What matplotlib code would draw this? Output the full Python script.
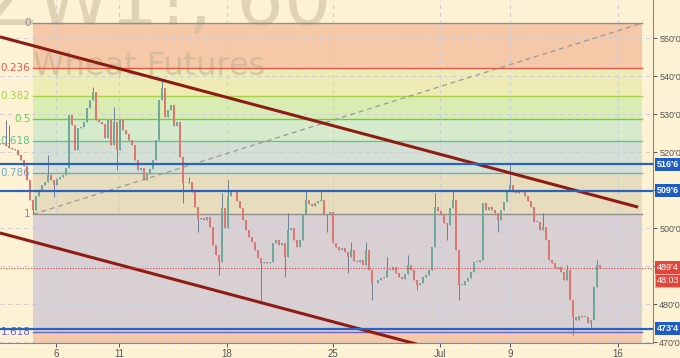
import numpy as np
import matplotlib
matplotlib.use("Agg")
import matplotlib.pyplot as plt

# hourly closes of ZW1! (one bar every ~3 px)
closes = [
    522.4, 522.1, 521.6, 521.1, 520.8, 520.5, 519.2, 517.9, 516.3, 512.6,
    507.4, 504.7, 508.4, 510.0, 511.3, 512.1, 514.0, 512.6, 511.3, 512.9,
    513.4, 514.0, 515.8, 529.7, 527.1, 520.5, 526.3, 526.6, 527.9, 531.6,
    533.7, 535.8, 528.4, 527.9, 527.4, 523.7, 528.4, 521.8, 527.9, 520.5,
    528.4, 525.8, 524.7, 523.2, 521.8, 517.9, 515.3, 515.8, 512.6, 514.2,
    515.5, 517.9, 523.2, 533.7, 536.8, 529.2, 531.1, 532.4, 526.8, 527.9,
    518.7, 511.8, 511.8, 512.1, 509.5, 505.5, 502.4, 502.6, 502.1, 502.9,
    500.3, 495.5, 492.9, 491.1, 505.3, 500.0, 508.4, 509.5, 509.5, 507.1,
    505.3, 502.1, 499.5, 497.6, 496.3, 494.2, 492.1, 490.8, 491.1, 490.8,
    491.1, 496.1, 496.8, 495.5, 496.1, 492.4, 499.5, 500.0, 496.8, 495.0,
    496.8, 503.4, 507.4, 506.3, 505.8, 506.6, 507.1, 507.4, 503.4, 503.7,
    504.2, 496.1, 495.0, 494.2, 494.7, 493.7, 492.4, 494.2, 491.3, 491.1,
    491.6, 490.3, 494.2, 489.0, 485.5, 485.5, 486.3, 486.8, 487.1, 489.0,
    489.0, 489.7, 488.2, 487.1, 486.6, 487.9, 490.3, 489.0, 486.3, 485.0,
    485.5, 487.1, 487.6, 489.0, 495.0, 505.5, 504.5, 503.4, 501.3, 500.8,
    505.3, 507.4, 494.2, 485.0, 485.0, 486.1, 486.8, 488.4, 491.1, 491.1,
    491.6, 506.6, 504.7, 505.5, 504.7, 503.9, 502.1, 504.7, 506.8, 510.0,
    511.3, 509.5, 509.2, 510.0, 509.5, 508.4, 507.1, 505.5, 501.6, 501.6,
    499.5, 500.3, 496.8, 491.6, 490.8, 489.5, 489.7, 488.4, 486.3, 489.0,
    481.1, 476.6, 475.8, 476.8, 476.6, 476.6, 475.0, 475.8, 484.5, 490.3,
    489.5,
]
first_open = 522.0

# long wicks that stick out of the bodies
spike_highs = {2: 528.4, 3: 527.1, 16: 519.2, 31: 537.1, 38: 531.8, 54: 538.9,
               63: 513.4, 74: 509.2, 76: 512.6, 96: 503.9, 102: 510.0, 107: 510.0,
               117: 496.3, 122: 496.3, 129: 492.4, 136: 492.9, 145: 509.2,
               151: 510.0, 170: 516.6, 181: 503.9, 189: 490.3, 199: 491.6}
spike_lows = {11: 503.7, 18: 508.2, 39: 515.3, 61: 506.6, 66: 498.9, 73: 487.6,
              87: 480.5, 95: 487.1, 109: 498.9, 116: 488.2, 124: 481.1,
              139: 483.7, 149: 496.8, 153: 481.1, 166: 498.9, 191: 471.8,
              197: 474.0}

# fibonacci retracement drawing
fib_start = (11, 503.6)
fib_end = (214, 553.9)
fib_levels = [0, 0.236, 0.382, 0.5, 0.618, 0.786, 1, 1.618, 2.618]
fib_labels = ["0", "0.236", "0.382", "0.5", "0.618", "0.786", "1", "1.618"]
fib_line_colors = ["#8f8f8f", "#e5574a", "#a9cf45", "#66cf45", "#5cc590",
                   "#6aa9d8", "#8f8f8f", "#6a63c9"]
fib_fill_colors = ["#f5c8a8", "#eeebb4", "#d9ecb2", "#d6ebcb", "#d4e0d3",
                   "#e7dcbc", "#d9d0d4", "#f5c8a8"]

# trend channel and horizontal levels
upper_trend = ([0, 212.7], [550.3, 505.5])
lower_trend = ([0, 212.7], [498.7, 453.9])
blue_levels = [516.75, 509.75, 473.5]
blue_texts = ["516'6", "509'6", "473'4"]
last_price = 489.5
last_text = "489'4"
countdown = "48:03"

day_ticks = [18.67, 39.67, 75.67, 111, 146.67, 170, 206]
day_labels = ["6", "11", "18", "25", "Jul", "9", "16"]
price_ticks = [470, 480, 490, 500, 510, 520, 530, 540, 550]
hidden_ticks = [490, 510]  # covered by the price tags

bg = "#fdf3d4"
axis_font = "Liberation Sans"
fig = plt.figure(figsize=(6.8, 3.58), dpi=100, facecolor=bg)
ax = fig.add_axes([0, 15 / 358, 653 / 680, 343 / 358], facecolor=bg)
ax.set_xlim(0, 217.67)
ax.set_ylim(469.74, 560)

# fib bands + lines
p0, p1 = fib_end[1], fib_start[1]
rng = p0 - p1
lv_prices = [p0 - l * rng for l in fib_levels]
x0, x1 = fib_start[0], fib_end[0]
for k in range(len(fib_fill_colors)):
    ax.fill_between([x0, x1], lv_prices[k + 1], lv_prices[k],
                    color=fib_fill_colors[k], lw=0, zorder=1)
for k, lab in enumerate(fib_labels):
    ax.plot([x0, x1], [lv_prices[k]] * 2, color=fib_line_colors[k], lw=1, zorder=2)
    ax.text(x0 - 0.8, lv_prices[k], lab, color=fib_line_colors[k], fontsize=7.5,
            ha="right", va="center", zorder=3)
ax.plot([fib_start[0], fib_end[0]], [fib_start[1], fib_end[1]],
        color="#9a9a9a", lw=0.9, ls=(0, (4, 3)), zorder=3)

# grid
for t in day_ticks:
    ax.axvline(t, color="#c9cde0", lw=0.7, ls=(0, (4, 4)), zorder=1.5)
for t in price_ticks:
    ax.axhline(t, color="#c9cde0", lw=0.7, ls=(0, (4, 4)), zorder=1.5)

# watermark
ax.text(-5, 553.4, "ZW1!, 60", fontsize=54, color="#cdbf9f", alpha=0.6,
        ha="left", va="baseline", zorder=1.8, clip_on=False)
ax.text(11, 540.3, "Wheat Futures", fontsize=23, color="#c2b290", alpha=0.6,
        ha="left", va="baseline", zorder=1.8)

# candles
opens = [first_open] + closes[:-1]
for i, (o, c) in enumerate(zip(opens, closes)):
    hi = spike_highs.get(i, max(o, c))
    lo = spike_lows.get(i, min(o, c))
    up = c >= o
    col = "#70a89c" if up else "#df7670"
    ax.vlines(i, lo, hi, color="#6f7d98", lw=0.7, zorder=4)
    h = c - o if abs(c - o) > 0.15 else 0.15
    ax.bar(i, h, bottom=o, width=0.5, color=col, edgecolor="none", zorder=5)

# trend lines
ax.plot(*upper_trend, color="#8e1c12", lw=2.2, zorder=6, solid_capstyle="butt")
ax.plot(*lower_trend, color="#8e1c12", lw=2.2, zorder=6, solid_capstyle="butt")

# horizontal levels + price tags on the right scale
tag_x = 1.006
for lvl, txt in zip(blue_levels, blue_texts):
    ax.axhline(lvl, color="#2a62c0", lw=1.6, zorder=7)
    ax.text(tag_x, lvl, txt, transform=ax.get_yaxis_transform(), fontsize=6.5,
            family=axis_font, color="white", ha="left", va="center",
            fontweight="bold",
            bbox=dict(boxstyle="square,pad=0.22", fc="#1f5cc4", ec="none"),
            clip_on=False, zorder=10)
ax.axhline(last_price, color="#e0463c", lw=0.8, ls=(0, (1, 1.5)), zorder=7)
ax.text(tag_x, last_price, last_text, transform=ax.get_yaxis_transform(),
        fontsize=6.5, family=axis_font, color="white", ha="left", va="center",
        bbox=dict(boxstyle="square,pad=0.22", fc="#e0463c", ec="none"),
        clip_on=False, zorder=10)
ax.text(tag_x, last_price - 3.3, countdown, transform=ax.get_yaxis_transform(),
        fontsize=6.5, family=axis_font, color="white", ha="left", va="center",
        bbox=dict(boxstyle="square,pad=0.22", fc="#e0463c", ec="#f3a39b", lw=0.8),
        clip_on=False, zorder=10)

# axes styling
ax.yaxis.tick_right()
ax.set_yticks(price_ticks)
ax.set_yticklabels(["" if p in hidden_ticks else f"{p}'0" for p in price_ticks],
                   family=axis_font)
ax.set_xticks(day_ticks)
ax.set_xticklabels(day_labels, family=axis_font)
ax.tick_params(axis="y", labelsize=6.5, colors="#555555", length=3, width=0.7,
               pad=1.5)
ax.tick_params(axis="x", labelsize=7, colors="#555555", length=3, width=0.7,
               pad=1)
for s in ["top", "left"]:
    ax.spines[s].set_visible(False)
for s in ["right", "bottom"]:
    ax.spines[s].set_color("#888888")
    ax.spines[s].set_linewidth(0.8)

fig.savefig("out.png", dpi=100, facecolor=bg)
